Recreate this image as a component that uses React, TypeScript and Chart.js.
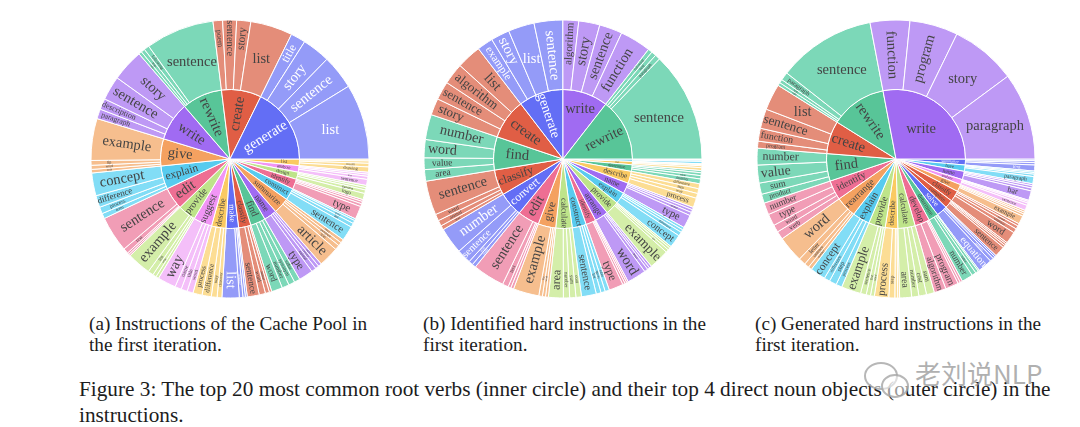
import React, { useEffect, useRef } from "react";
import { Chart, registerables } from "chart.js";

Chart.register(...registerables);

// ---- palette keyed by hue name ----
const hueInner: Record<string, string> = {
  blue: "#636EF5", red: "#E05E45", green: "#58C598", purple: "#A06BF2", orange: "#F4A160",
  cyan: "#58CBEF", pink: "#EE6E93", lime: "#BEE48A", magenta: "#F195F5", yellow: "#FACA62",
};
const hueOuter: Record<string, string> = {
  blue: "#949BF8", red: "#E48D79", green: "#7CD8B8", purple: "#BE99F5", orange: "#F6BE8E",
  cyan: "#82DDF6", pink: "#F19DB6", lime: "#D4EEA9", magenta: "#F4BFF9", yellow: "#FCDD94",
};

// ---- chart (a): counter-clockwise order, starting from 3 o'clock ----
const aVerbs = ["generate", "create", "rewrite", "write", "give", "explain", "edit", "provide", "suggest", "describe", "make", "classify", "find", "name", "summarize", "construct", "identify", "design", "analyze", "list"];
const aHues = ["blue", "red", "green", "purple", "orange", "cyan", "pink", "lime", "magenta", "yellow", "blue", "red", "green", "purple", "orange", "cyan", "pink", "lime", "magenta", "yellow"];
const aNouns = [
  ["list", "sentence", "story", "title"], ["list", "story", "sentence", "poem"], ["sentence", "following", "text", "code"], ["story", "sentence", "description", "paragraph"],
  ["example", "tip", "word", "way"], ["concept", "difference", "process", "term"], ["sentence", "text", "code", "poem"], ["example", "list", "way", "name"],
  ["way", "name", "title", "word"], ["process", "difference", "way", "character"], ["list", "sentence", "plan", "table"], ["sentence", "word", "animal", "text"],
  ["word", "number", "synonym", "value"], ["type", "animal", "country", "color"], ["article", "text", "paragraph", "story"], ["sentence", "list", "query", "table"],
  ["type", "word", "sentence", "error"], ["logo", "algorithm", "website", "app"], ["sentence", "text", "data", "poem"], ["drawing", "benefit", "name", "item"],
];
const aShares = [
  [31.5, 14.3, 11.7, 6.2], [17.6, 5.9, 5.8, 4], [28.7, 2.2, 1.6, 1.3], [13.4, 10.1, 4.6, 4.1],
  [17.5, 2, 1.7, 1.5], [9.5, 5, 2.8, 2.2], [15, 2.2, 0.8, 0.7], [10, 2.3, 1.5, 1.2],
  [7.7, 2.7, 2.6, 2.5], [3.8, 3.9, 2.4, 2], [7.2, 1.5, 1, 0.8], [5, 2.6, 1.7, 1],
  [4.6, 3, 2.6, 2.4], [6, 2, 1.5, 1.4], [8.5, 2, 1.5, 1.5], [6.2, 1.7, 1.3, 0.8],
  [5.5, 1.2, 1, 0.8], [2.6, 1.5, 1, 0.9], [2.5, 1.3, 0.9, 0.8], [2.2, 1.5, 1, 0.8],
];

// ---- chart (b) ----
const bVerbs = ["rewrite", "write", "generate", "create", "find", "classify", "convert", "edit", "give", "calculate", "construct", "identify", "arrange", "provide", "explain", "name", "describe", "determine", "list", "summarize"];
const bHues = ["green", "purple", "blue", "red", "green", "red", "blue", "pink", "orange", "lime", "cyan", "pink", "purple", "lime", "cyan", "purple", "yellow", "green", "yellow", "cyan"];
const bNouns = [
  ["sentence", "paragraph", "text", "following"], ["function", "sentence", "story", "algorithm"], ["sentence", "list", "story", "example"], ["list", "algorithm", "sentence", "story"],
  ["number", "word", "value", "area"], ["sentence", "word", "animal", "text"], ["number", "sentence", "text", "word"], ["sentence", "text", "code", "poem"],
  ["example", "list", "word", "name"], ["area", "number", "sum", "cost"], ["sentence", "list", "query", "table"], ["type", "word", "noun", "verb"],
  ["word", "letter", "sentence", "number"], ["example", "list", "word", "synonym"], ["concept", "difference", "term", "process"], ["type", "animal", "country", "state"],
  ["process", "way", "step", "difference"], ["number", "value", "sum", "type"], ["item", "number", "name", "way"], ["text", "article", "story", "paragraph"],
];
const bShares = [
  [46, 2.2, 2, 1.8], [13, 9.6, 8.8, 6.6], [12, 10.9, 7.8, 6.7], [10.3, 8.9, 7.7, 7],
  [10.5, 7.6, 4.9, 4.8], [14.3, 2.8, 2.4, 1.8], [11, 6, 1.8, 1.6], [13.3, 2.5, 1.2, 1.2],
  [10.8, 1.5, 1.3, 1.2], [6.2, 2.6, 2.6, 2.3], [6.2, 2, 1.8, 1.8], [6, 1, 0.8, 0.7],
  [8, 1.5, 1, 1], [8.5, 1.2, 1, 0.8], [5.5, 1.7, 1.2, 1.1], [5.5, 1.4, 1.2, 1],
  [4, 2, 2, 2.1], [2, 1.4, 1.2, 0.9], [1.2, 0.8, 0.5, 0.3], [1, 0.5, 0.3, 0.2],
];

// ---- chart (c) ----
const cVerbs = ["write", "rewrite", "create", "find", "identify", "rearrange", "explain", "provide", "describe", "calculate", "develop", "determine", "solve", "complete", "classify", "give", "analyze", "name", "have", "summarize"];
const cHues = ["purple", "green", "red", "green", "pink", "orange", "cyan", "lime", "yellow", "lime", "pink", "green", "blue", "red", "red", "orange", "magenta", "purple", "cyan", "blue"];
const cNouns = [
  ["paragraph", "story", "program", "function"], ["sentence", "paragraph", "text", "code"], ["list", "sentence", "function", "program"], ["number", "value", "sum", "product"],
  ["number", "type", "word", "verb"], ["word", "letter", "sentence", "number"], ["concept", "difference", "step", "process"], ["example", "sentence", "list", "word"],
  ["process", "step", "experience", "way"], ["area", "number", "cost", "sum"], ["algorithm", "program", "plan", "app"], ["number", "value", "type", "area"],
  ["equation", "problem", "puzzle", "riddle"], ["sentence", "word", "code", "text"], ["word", "sentence", "animal", "text"], ["example", "list", "word", "name"],
  ["sentence", "text", "data", "poem"], ["bar", "animal", "country", "state"], ["paragraph", "story", "list", "word"], ["text", "article", "story", "data"],
];
const cShares = [
  [36.5, 27.5, 20.2, 16.6], [41, 3.4, 1.5, 1.3], [11, 8.2, 5.4, 2.9], [7, 7.5, 4.7, 3.8],
  [5, 5, 3.1, 3.4], [11, 3, 2, 1.5], [6.5, 2.4, 3.1, 2.5], [8.2, 2.4, 1.8, 1.6],
  [6, 2.5, 1.2, 0.8], [5, 3, 3.2, 3.3], [5, 5.5, 1, 1], [4.7, 1.8, 1.2, 0.6],
  [6, 1.5, 1, 0.7], [4.5, 1, 0.8, 0.7], [5, 1.8, 1.4, 1], [3.5, 1, 0.8, 0.8],
  [2.2, 1, 0.7, 0.5], [4, 1.2, 1, 0.8], [3, 1, 0.7, 0.6], [2.5, 1, 0.8, 0.7],
];

// ---- text ----
const captionA = ["(a) Instructions of the Cache Pool in", "the first iteration."];
const captionB = ["(b) Identified hard instructions in the", "first iteration."];
const captionC = ["(c) Generated hard instructions in the", "first iteration."];
const figureCaption = ["Figure 3: The top 20 most common root verbs (inner circle) and their top 4 direct noun objects (outer circle) in the", "instructions."];
const watermark = "老刘说NLP";

const SERIF = '"Liberation Serif", "Times New Roman", serif';
const MAX_FONT = 14.5;

function fits(w: number, h: number, cr: number, mid: number, rot: number, r0: number, r1: number, a0: number, a1: number) {
  const cx = Math.cos(mid) * cr, cy = Math.sin(mid) * cr;
  const c = Math.cos(rot), s = Math.sin(rot);
  for (const sx of [-1, 0, 1]) {
    for (const sy of [-1, 1]) {
      const px = cx + (sx * w * c) / 2 - (sy * h * s) / 2;
      const py = cy + (sx * w * s) / 2 + (sy * h * c) / 2;
      const r = Math.hypot(px, py);
      if (r > r1 || r < r0) return false;
      let d = Math.atan2(py, px) - mid;
      while (d > Math.PI) d -= 2 * Math.PI;
      while (d < -Math.PI) d += 2 * Math.PI;
      if (Math.abs(d) > (a1 - a0) / 2) return false;
    }
  }
  return true;
}
function upright(a: number) {
  let t = a;
  while (t > Math.PI / 2 + 1e-6) t -= Math.PI;
  while (t <= -Math.PI / 2 + 1e-6) t += Math.PI;
  return t;
}

// Same idea as plotly's "auto" text orientation: flat text only when the text's
// diagonal fits the slice's inscribed circle, otherwise radial or tangential, scaled to fit.
const sunburstLabels = {
  id: "sunburstLabels",
  afterDatasetsDraw(chart: any) {
    const ctx = chart.ctx as CanvasRenderingContext2D;
    chart.data.datasets.forEach((ds: any, di: number) => {
      const meta = chart.getDatasetMeta(di);
      meta.data.forEach((arc: any, i: number) => {
        const text: string = ds.labelTexts[i];
        const { x, y, startAngle, endAngle, innerRadius, outerRadius } = arc;
        const mid = (startAngle + endAngle) / 2;
        const half = (endAngle - startAngle) / 2;
        ctx.save();
        ctx.font = `10px ${SERIF}`;
        const unit = ctx.measureText(text).width / 10;
        const sinH = half >= Math.PI / 2 ? 1 : Math.sin(half);
        const byAngle = (outerRadius * sinH) / (1 + sinH);
        const rho = Math.min(byAngle, (outerRadius - innerRadius) / 2);
        const diag = Math.hypot(unit * MAX_FONT, MAX_FONT * 1.05);
        let best = { s: 0, rot: 0, r: 0 };
        if (rho * 2 >= diag) {
          best = { s: MAX_FONT, rot: 0, r: innerRadius === 0 ? outerRadius - rho : (innerRadius + outerRadius) / 2 };
        } else {
          const positions = innerRadius === 0 ? [0.66, 0.6, 0.72, 0.78] : [0.5, 0.58, 0.66, 0.74];
          for (const rot of [upright(mid), upright(mid + Math.PI / 2)]) {
            for (const t of positions) {
              const cr = innerRadius + (outerRadius - innerRadius) * t;
              let lo = 0, hi = MAX_FONT;
              for (let k = 0; k < 14; k++) {
                const s = (lo + hi) / 2;
                if (fits(unit * s, s * 1.0, cr, mid, rot, innerRadius, outerRadius, startAngle, endAngle)) lo = s;
                else hi = s;
              }
              if (lo > best.s + 0.05) best = { s: lo, rot, r: cr };
            }
          }
        }
        if (best.s >= 2.5) {
          ctx.font = `${best.s}px ${SERIF}`;
          ctx.textAlign = "center";
          ctx.textBaseline = "middle";
          ctx.fillStyle = ds.labelColors[i];
          ctx.translate(x + Math.cos(mid) * best.r, y + Math.sin(mid) * best.r);
          ctx.rotate(best.rot);
          ctx.fillText(text, 0, 0);
        }
        ctx.restore();
      });
    });
  },
};

function Sunburst({ verbs, hues, nouns, shares, left, top }: { verbs: string[]; hues: string[]; nouns: string[][]; shares: number[][]; left: number; top: number }) {
  const ref = useRef<HTMLCanvasElement>(null);
  useEffect(() => {
    if (!ref.current) return;
    // Chart.js sweeps clockwise, the original sweeps counter-clockwise: reverse everything.
    const order = verbs.map((_, i) => verbs.length - 1 - i);
    const outerVals: number[] = [], outerColors: string[] = [], outerTexts: string[] = [], outerInk: string[] = [];
    const innerVals: number[] = [], innerColors: string[] = [], innerTexts: string[] = [], innerInk: string[] = [];
    for (const i of order) {
      const ink = hues[i] === "blue" ? "#ffffff" : "#444444";
      for (let j = shares[i].length - 1; j >= 0; j--) {
        outerVals.push(shares[i][j]);
        outerColors.push(hueOuter[hues[i]]);
        outerTexts.push(nouns[i][j]);
        outerInk.push(ink);
      }
      innerVals.push(shares[i].reduce((a, b) => a + b, 0));
      innerColors.push(hueInner[hues[i]]);
      innerTexts.push(verbs[i]);
      innerInk.push(ink);
    }
    const chart = new Chart(ref.current, {
      type: "doughnut",
      data: {
        labels: outerTexts,
        datasets: [
          { data: outerVals, backgroundColor: outerColors, borderColor: "#ffffff", borderWidth: 1, labelTexts: outerTexts, labelColors: outerInk } as any,
          { data: innerVals, backgroundColor: innerColors, borderColor: "#ffffff", borderWidth: 1, labelTexts: innerTexts, labelColors: innerInk } as any,
        ],
      },
      options: {
        responsive: false,
        animation: false,
        cutout: 0,
        radius: 139,
        rotation: 90,
        layout: { padding: 0 },
        plugins: { legend: { display: false }, tooltip: { enabled: false } },
      } as any,
      plugins: [sunburstLabels],
    });
    return () => chart.destroy();
  }, []);
  return <canvas ref={ref} width={290} height={290} style={{ position: "absolute", left, top, width: 290, height: 290 }} />;
}

function Caption({ lines, left, top, size, lineHeight }: { lines: string[]; left: number; top: number; size: number; lineHeight: number }) {
  return (
    <div style={{ position: "absolute", left, top, fontFamily: SERIF, fontSize: size, lineHeight: `${lineHeight}px`, color: "#1c1c1c", whiteSpace: "nowrap" }}>
      {lines.map((l) => (<div key={l}>{l}</div>))}
    </div>
  );
}

export default function App() {
  return (
    <div style={{ position: "absolute", left: 0, top: 0, width: 1080, height: 427, background: "#fff", overflow: "hidden" }}>
      <Sunburst verbs={aVerbs} hues={aHues} nouns={aNouns} shares={aShares} left={85} top={14} />
      <Sunburst verbs={bVerbs} hues={bHues} nouns={bNouns} shares={bShares} left={418} top={14} />
      <Sunburst verbs={cVerbs} hues={cHues} nouns={cNouns} shares={cShares} left={751} top={14} />
      <Caption lines={captionA} left={89} top={313} size={19.2} lineHeight={21} />
      <Caption lines={captionB} left={423} top={313} size={19.2} lineHeight={21} />
      <Caption lines={captionC} left={755} top={313} size={19.2} lineHeight={21} />
      <Caption lines={figureCaption} left={79} top={376} size={21.25} lineHeight={26} />
      <svg width={50} height={42} style={{ position: "absolute", left: 862, top: 360 }} viewBox="0 0 50 42">
        <ellipse cx={19} cy={16} rx={16} ry={13} fill="rgba(255,255,255,0.55)" stroke="rgba(165,165,165,0.8)" strokeWidth={2} />
        <ellipse cx={33} cy={26} rx={13} ry={11} fill="rgba(255,255,255,0.55)" stroke="rgba(165,165,165,0.8)" strokeWidth={2} />
      </svg>
      <div style={{ position: "absolute", left: 915, top: 358, fontFamily: '"Noto Sans CJK SC", sans-serif', fontSize: 26, lineHeight: "30px", color: "rgba(150,150,150,0.75)", whiteSpace: "nowrap" }}>{watermark}</div>
    </div>
  );
}
